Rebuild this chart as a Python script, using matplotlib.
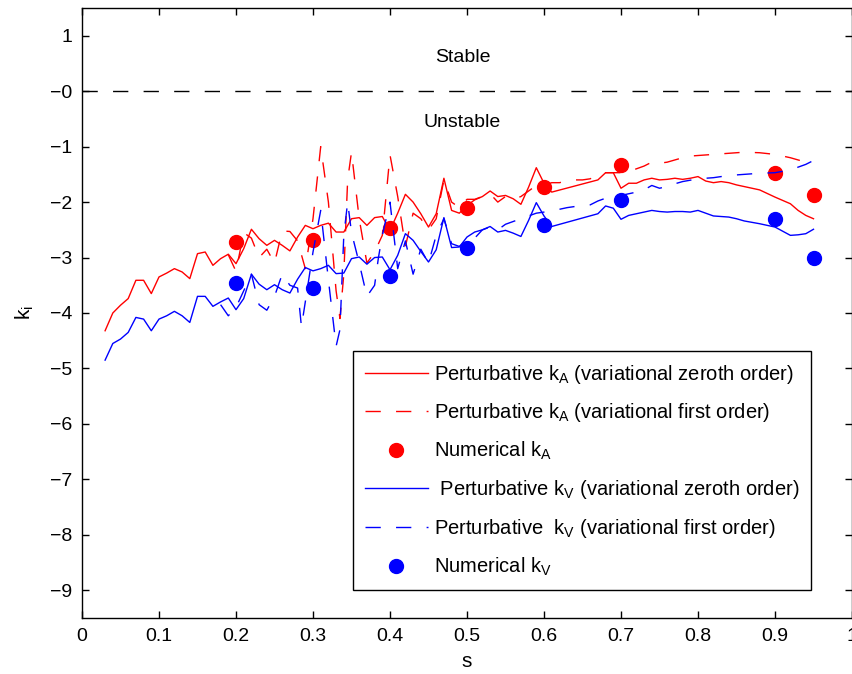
import matplotlib
matplotlib.use("Agg")
import matplotlib.pyplot as plt

plt.rcParams['font.family'] = ['Liberation Sans', 'DejaVu Sans']
plt.rcParams['mathtext.default'] = 'regular'

# perturbativo, ordem zero (A = vermelho, V = azul)
s_zero = [0.03, 0.04, 0.05, 0.06, 0.07, 0.08, 0.09, 0.10, 0.11, 0.12, 0.13, 0.14,
          0.15, 0.16, 0.17, 0.18, 0.19, 0.20, 0.21, 0.22, 0.23, 0.24, 0.25, 0.26,
          0.27, 0.28, 0.29, 0.30, 0.31, 0.32, 0.33, 0.34, 0.35, 0.36, 0.37, 0.38,
          0.39, 0.40, 0.41, 0.42, 0.43, 0.44, 0.45, 0.46, 0.47, 0.48, 0.49, 0.50,
          0.51, 0.52, 0.53, 0.54, 0.55, 0.56, 0.57, 0.58, 0.59, 0.60, 0.61, 0.67,
          0.68, 0.69, 0.70, 0.71, 0.72, 0.73, 0.74, 0.75, 0.76, 0.77, 0.78, 0.79,
          0.80, 0.81, 0.82, 0.83, 0.84, 0.85, 0.86, 0.88, 0.90, 0.92, 0.93, 0.94, 0.95]
kA_zero = [-4.32, -4.00, -3.86, -3.74, -3.41, -3.41, -3.65, -3.35, -3.28, -3.20, -3.26, -3.38,
           -2.93, -2.90, -3.14, -3.02, -2.94, -3.11, -2.84, -2.49, -2.66, -2.78, -2.69, -2.78,
           -2.88, -2.63, -2.42, -2.48, -2.42, -2.38, -2.54, -2.54, -2.30, -2.28, -2.42, -2.28,
           -2.26, -2.51, -2.20, -1.86, -2.00, -2.21, -2.45, -2.21, -1.57, -2.15, -2.20, -2.06,
           -1.96, -1.90, -1.80, -1.90, -1.88, -1.94, -2.04, -1.73, -1.38, -1.66, -1.82, -1.60,
           -1.47, -1.47, -1.75, -1.66, -1.66, -1.60, -1.57, -1.60, -1.59, -1.57, -1.59, -1.57,
           -1.54, -1.62, -1.65, -1.63, -1.65, -1.69, -1.72, -1.78, -1.91, -2.03, -2.15, -2.24, -2.30]
kV_zero = [-4.85, -4.55, -4.47, -4.35, -4.08, -4.11, -4.32, -4.11, -4.05, -3.97, -4.05, -4.17,
           -3.70, -3.70, -3.88, -3.80, -3.73, -3.94, -3.74, -3.30, -3.48, -3.58, -3.49, -3.58,
           -3.64, -3.39, -3.18, -3.24, -3.20, -3.14, -3.29, -3.28, -3.02, -2.99, -3.12, -3.00,
           -2.99, -3.22, -2.96, -2.57, -2.69, -2.89, -3.08, -2.86, -2.28, -2.82, -2.81, -2.63,
           -2.54, -2.50, -2.44, -2.54, -2.51, -2.56, -2.62, -2.33, -2.01, -2.25, -2.44, -2.21,
           -2.07, -2.11, -2.31, -2.24, -2.21, -2.18, -2.15, -2.17, -2.18, -2.17, -2.17, -2.18,
           -2.15, -2.20, -2.25, -2.26, -2.27, -2.30, -2.34, -2.39, -2.45, -2.60, -2.59, -2.57, -2.49]

# perturbativo, primeira ordem
s_A_first = [0.19, 0.20, 0.21, 0.22, 0.23, 0.24, 0.25, 0.26, 0.27, 0.28, 0.29, 0.30,
             0.31, 0.32, 0.33, 0.335, 0.34, 0.345, 0.35, 0.36, 0.37, 0.38, 0.39, 0.40,
             0.41, 0.42, 0.43, 0.44, 0.45, 0.46, 0.47, 0.48, 0.49, 0.50, 0.51, 0.52,
             0.53, 0.54, 0.55, 0.56, 0.57, 0.58, 0.59, 0.60, 0.61, 0.62, 0.63, 0.64,
             0.65, 0.66, 0.67, 0.68, 0.69, 0.70, 0.71, 0.72, 0.73, 0.74, 0.75, 0.76,
             0.77, 0.78, 0.79, 0.80, 0.82, 0.84, 0.86, 0.88, 0.90, 0.92, 0.945]
kA_first = [-2.95, -3.25, -2.55, -2.65, -3.00, -2.85, -3.10, -2.52, -2.53, -2.70, -3.20, -2.30,
            -1.00, -2.00, -3.60, -4.10, -3.30, -1.60, -1.10, -2.30, -3.10, -2.90, -2.60, -1.15,
            -1.90, -2.80, -2.20, -2.30, -2.50, -2.30, -1.60, -2.00, -2.10, -1.95, -1.95, -1.90,
            -1.85, -2.00, -1.90, -1.95, -1.90, -1.80, -1.70, -1.70, -1.65, -1.65, -1.62, -1.60,
            -1.60, -1.58, -1.50, -1.47, -1.47, -1.47, -1.45, -1.40, -1.35, -1.28, -1.30, -1.28,
            -1.24, -1.20, -1.17, -1.16, -1.14, -1.12, -1.10, -1.11, -1.14, -1.20, -1.30]
s_V_first = [0.18, 0.19, 0.20, 0.21, 0.22, 0.23, 0.24, 0.25, 0.26, 0.27, 0.28, 0.285,
             0.29, 0.30, 0.31, 0.32, 0.33, 0.335, 0.34, 0.345, 0.35, 0.36, 0.37, 0.38,
             0.385, 0.39, 0.40, 0.41, 0.42, 0.43, 0.44, 0.45, 0.46, 0.47, 0.48, 0.49,
             0.50, 0.51, 0.52, 0.53, 0.54, 0.55, 0.56, 0.57, 0.58, 0.59, 0.60, 0.61,
             0.62, 0.63, 0.64, 0.65, 0.66, 0.67, 0.68, 0.69, 0.70, 0.71, 0.72, 0.73,
             0.74, 0.75, 0.76, 0.77, 0.78, 0.80, 0.82, 0.84, 0.86, 0.88, 0.90, 0.92, 0.94, 0.95]
kV_first = [-3.85, -4.05, -3.90, -3.60, -3.30, -3.85, -3.95, -3.70, -3.30, -3.50, -3.55, -4.25,
            -3.80, -2.90, -2.15, -3.40, -4.60, -4.30, -2.60, -2.00, -2.55, -3.10, -3.70, -3.50,
            -3.00, -2.60, -2.00, -3.20, -2.70, -3.30, -2.85, -3.10, -2.60, -2.30, -2.75, -2.80,
            -2.70, -2.65, -2.50, -2.45, -2.50, -2.40, -2.35, -2.30, -2.25, -2.20, -2.18, -2.15,
            -2.13, -2.10, -2.08, -2.07, -2.05, -1.98, -1.93, -1.92, -1.88, -1.85, -1.82, -1.78,
            -1.70, -1.75, -1.72, -1.67, -1.63, -1.58, -1.56, -1.52, -1.50, -1.48, -1.47, -1.42, -1.32, -1.25]

# resultados numericos
s_num = [0.2, 0.3, 0.4, 0.5, 0.6, 0.7, 0.9, 0.95]
kA_num = [-2.72, -2.68, -2.46, -2.10, -1.72, -1.34, -1.47, -1.87]
kV_num = [-3.46, -3.55, -3.33, -2.82, -2.41, -1.96, -2.30, -3.00]

ytick_vals = [-9, -8, -7, -6, -5, -4, -3, -2, -1, 0, 1]
ytick_labels = ['\u22129', '\u22128', '\u22127', '\u22126', '\u22125', '\u22124',
                '\u22123', '\u22122', '\u22121', '\u22120', '1']
xtick_vals = [0, 0.1, 0.2, 0.3, 0.4, 0.5, 0.6, 0.7, 0.8, 0.9, 1]
xtick_labels = ['0', '0.1', '0.2', '0.3', '0.4', '0.5', '0.6', '0.7', '0.8', '0.9', '1']

fig = plt.figure(figsize=(8.52, 6.74), dpi=100)
ax = fig.add_axes([82 / 852, 56 / 674, 770 / 852, 610 / 674])

dash = (0, (11, 11))
ax.axhline(0, color='black', lw=1, linestyle=dash)

ax.plot(s_zero, kA_zero, color='red', lw=1, label='Perturbative k$_A$ (variational zeroth order)')
ax.plot(s_A_first, kA_first, color='red', lw=1, linestyle=dash,
        label='Perturbative k$_A$ (variational first order)')
ax.plot(s_num, kA_num, 'o', color='red', ms=10, label='Numerical k$_A$')
ax.plot(s_zero, kV_zero, color='blue', lw=1, label=' Perturbative k$_V$ (variational zeroth order)')
ax.plot(s_V_first, kV_first, color='blue', lw=1, linestyle=dash,
        label='Perturbative  k$_V$ (variational first order)')
ax.plot(s_num, kV_num, 'o', color='blue', ms=10, label='Numerical k$_V$')

ax.text(0.494, 0.60, 'Stable', fontsize=14, ha='center', va='center')
ax.text(0.494, -0.57, 'Unstable', fontsize=14, ha='center', va='center')

ax.set_xlim(0, 1)
ax.set_ylim(-9.5, 1.5)
ax.set_xticks(xtick_vals)
ax.set_xticklabels(xtick_labels)
ax.set_yticks(ytick_vals)
ax.set_yticklabels(ytick_labels)
ax.tick_params(direction='in', length=5, width=1, top=True, right=True, labelsize=14, pad=7)
for sp in ax.spines.values():
    sp.set_linewidth(1)

ax.set_xlabel('s', fontsize=15, labelpad=5)
ax.set_ylabel('k$_i$', fontsize=15, labelpad=10)

leg = ax.legend(loc='lower left', bbox_to_anchor=(0.352, 0.046), borderaxespad=0, fontsize=14.5,
                frameon=True, fancybox=False, framealpha=1, edgecolor='black',
                handlelength=3.1, handletextpad=0.3, labelspacing=0.78, borderpad=0.6)
leg.get_frame().set_linewidth(1)

fig.savefig('out.png', dpi=100)
